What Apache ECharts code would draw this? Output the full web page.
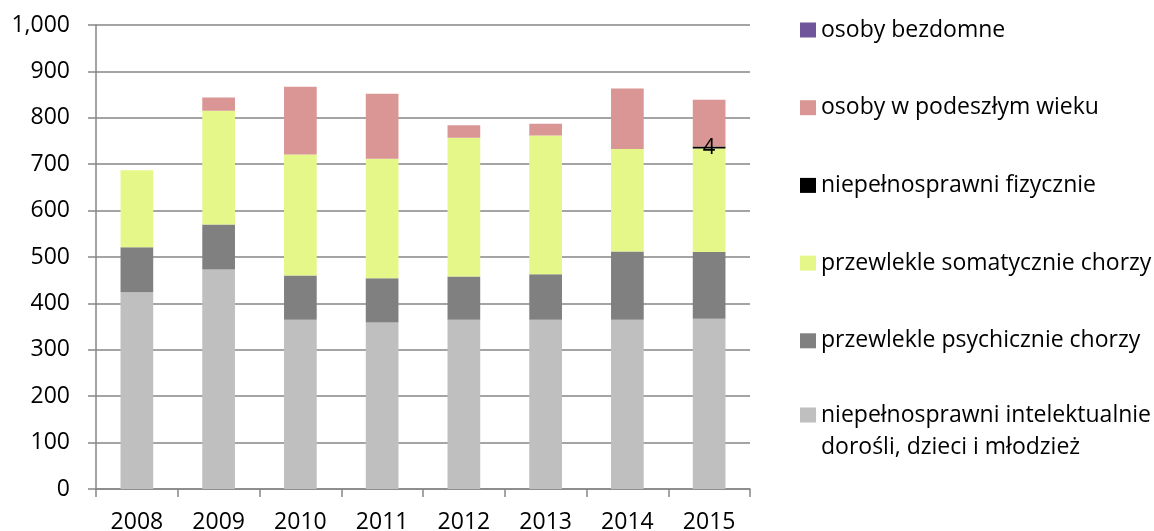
<!DOCTYPE html>
<html>
<head>
<meta charset="utf-8">
<script src="https://cdn.jsdelivr.net/npm/echarts@6/dist/echarts.min.js"></script>
<style>
  html, body { margin: 0; padding: 0; background: #fff; }
  #chart { width: 1154px; height: 531px; }
</style>
</head>
<body>
<div id="chart"></div>
<script>
// Years on the category axis
const years = ['2008', '2009', '2010', '2011', '2012', '2013', '2014', '2015'];

// Residents by group, stacked bottom to top
const intelektualnie = [424, 473, 365, 359, 365, 365, 365, 367];
const psychicznie    = [97, 97, 95, 95, 93, 98, 147, 144];
const somatycznie    = [166, 245, 261, 258, 299, 299, 221, 223];
const fizycznie      = [0, 0, 0, 0, 0, 0, 0, 4];
const podeszlyWiek   = [0, 29, 146, 140, 27, 25, 130, 101];
const bezdomne       = [0, 0, 0, 0, 0, 0, 0, 0];

const names = {
  intel: 'niepełnosprawni intelektualnie dorośli, dzieci i młodzież',
  psych: 'przewlekle psychicznie chorzy',
  somat: 'przewlekle somatycznie chorzy',
  fiz: 'niepełnosprawni fizycznie',
  wiek: 'osoby w podeszłym wieku',
  bezd: 'osoby bezdomne'
};

const FONT = '"Open Sans", "Noto Sans", sans-serif';
const GRID = '#868686';
const LEGEND_TEXT = { fontFamily: FONT, fontSize: 23, color: '#000', lineHeight: 32 };

function bar(name, data, color, extra) {
  return Object.assign({
    name: name,
    type: 'bar',
    stack: 'total',
    barWidth: '40%',
    data: data,
    itemStyle: { color: color },
    emphasis: { disabled: true }
  }, extra || {});
}

const legendBase = {
  orient: 'vertical',
  left: 795,
  itemWidth: 16,
  itemHeight: 15,
  selectedMode: false,
  icon: 'rect',
  height: 500
};

const chart = echarts.init(document.getElementById('chart'));
chart.setOption({
  animation: false,
  textStyle: { fontFamily: FONT },
  grid: { left: 96, top: 25, width: 654, height: 464, containLabel: false, outerBoundsMode: 'none' },
  legend: [
    Object.assign({}, legendBase, {
      top: 9,
      itemGap: 45.7,
      textStyle: LEGEND_TEXT,
      data: [names.bezd, names.wiek, names.fiz, names.somat, names.psych]
    }),
    // two-line entry; the blank first line keeps the swatch level with the first text line
    Object.assign({}, legendBase, {
      top: 362,
      textStyle: LEGEND_TEXT,
      formatter: function () { return '\nniepełnosprawni intelektualnie\ndorośli, dzieci i młodzież'; },
      data: [names.intel]
    })
  ],
  xAxis: {
    type: 'category',
    data: years,
    boundaryGap: true,
    axisLine: { lineStyle: { color: GRID, width: 1.5 } },
    axisTick: { show: true, length: 8, alignWithLabel: false, lineStyle: { color: GRID, width: 1.5 } },
    axisLabel: { color: '#000', fontSize: 23, fontFamily: FONT, margin: 22 }
  },
  yAxis: {
    type: 'value',
    min: 0,
    max: 1000,
    interval: 100,
    axisLine: { show: true, lineStyle: { color: GRID, width: 1.5 } },
    axisTick: { show: true, length: 8, lineStyle: { color: GRID, width: 1.5 } },
    splitLine: { show: true, lineStyle: { color: GRID, width: 1.5 } },
    axisLabel: {
      color: '#000', fontSize: 23, fontFamily: FONT, margin: 26,
      formatter: function (v) { return v.toLocaleString('en-US'); }
    }
  },
  series: [
    bar(names.intel, intelektualnie, '#BFBFBF'),
    bar(names.psych, psychicznie, '#808080'),
    bar(names.somat, somatycznie, '#E6F78A'),
    bar(names.fiz, fizycznie, '#000000', {
      label: {
        show: true,
        position: 'inside',
        color: '#000',
        fontSize: 22,
        fontFamily: FONT,
        formatter: function (p) { return p.value ? String(p.value) : ''; }
      }
    }),
    bar(names.wiek, podeszlyWiek, '#D99694'),
    bar(names.bezd, bezdomne, '#70559A')
  ]
});
</script>
</body>
</html>
